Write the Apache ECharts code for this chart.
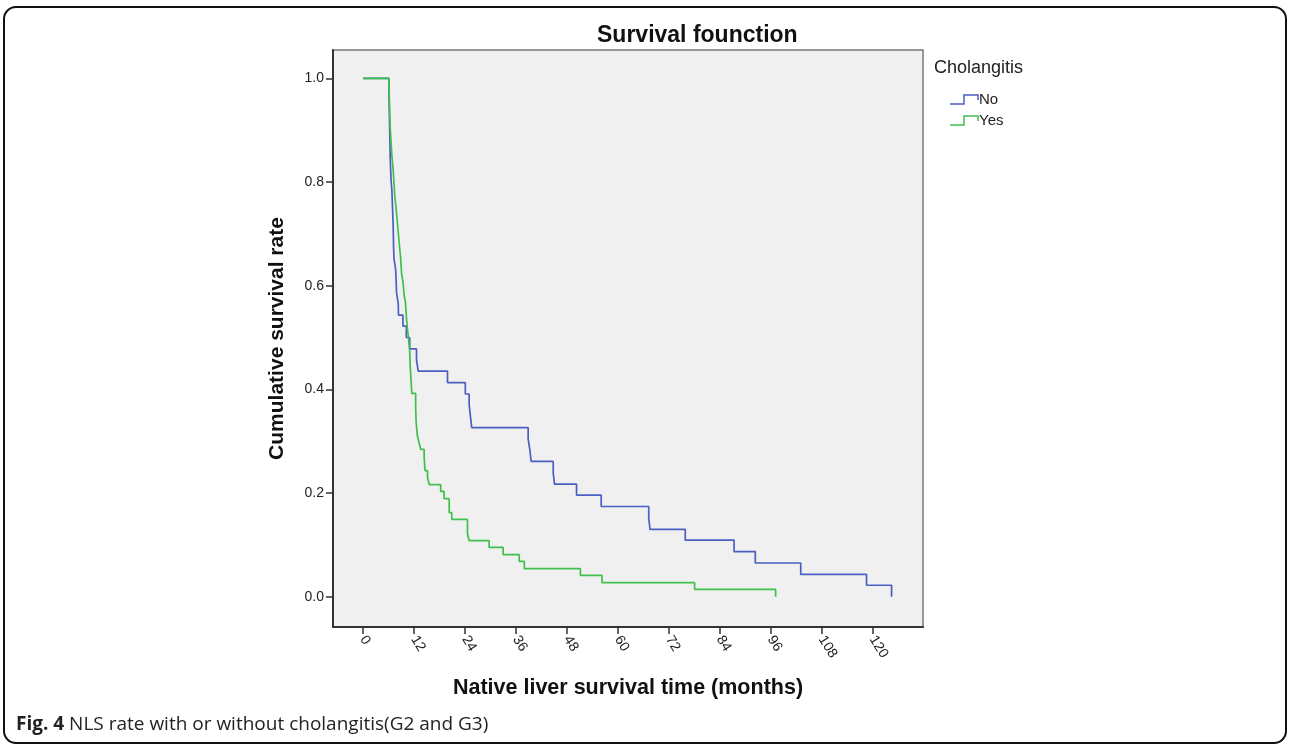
<!DOCTYPE html>
<html>
<head>
<meta charset="utf-8">
<script src="https://cdn.jsdelivr.net/npm/echarts@6/dist/echarts.min.js"></script>
<style>
  html, body { margin: 0; padding: 0; background: #ffffff; }
  #chart { width: 1290px; height: 747px; }
</style>
</head>
<body>
<div id="chart"></div>
<script>
// Kaplan-Meier step points: [month, cumulative survival after that time]
var noTimes = [0, 6.1, 6.15, 6.2, 6.25, 6.3, 6.35, 6.4, 6.5, 6.6, 6.8, 6.9, 7.0, 7.1, 7.15, 7.2, 7.3, 7.7, 7.8, 7.9, 8.3, 8.35, 9.4, 10.2, 11.0, 12.6, 13.0, 19.9, 24.1, 25.0, 25.3, 25.6, 38.9, 39.3, 39.6, 44.8, 45.1, 50.3, 56.1, 67.3, 67.6, 75.9, 87.4, 92.4, 103.1, 118.6, 124.5];
var noSurv  = [1.0, 0.978, 0.957, 0.935, 0.913, 0.891, 0.870, 0.848, 0.826, 0.804, 0.783, 0.761, 0.739, 0.717, 0.696, 0.674, 0.652, 0.630, 0.609, 0.587, 0.565, 0.543, 0.522, 0.500, 0.478, 0.457, 0.435, 0.413, 0.391, 0.370, 0.348, 0.326, 0.304, 0.283, 0.261, 0.239, 0.217, 0.196, 0.174, 0.152, 0.130, 0.109, 0.087, 0.065, 0.043, 0.022, 0.0];

var yesTimes = [0, 6.1, 6.2, 6.3, 6.4, 6.6, 6.8, 7.1, 7.3, 7.5, 7.7, 8.0, 8.3, 8.6, 8.9, 9.1, 9.4, 9.7, 10.0, 10.2, 10.5, 10.7, 11.0, 11.1, 11.3, 11.5, 12.4, 12.5, 12.8, 13.2, 13.6, 14.4, 14.6, 15.2, 15.6, 18.3, 19.1, 20.3, 20.9, 24.6, 25.0, 29.7, 33.0, 36.8, 38.0, 51.2, 56.3, 78.1, 97.2];
var yesSurv  = [1.0, 0.986, 0.959, 0.932, 0.905, 0.878, 0.851, 0.824, 0.797, 0.770, 0.757, 0.730, 0.703, 0.676, 0.649, 0.622, 0.608, 0.581, 0.568, 0.541, 0.514, 0.500, 0.473, 0.446, 0.419, 0.392, 0.365, 0.338, 0.311, 0.297, 0.284, 0.270, 0.243, 0.230, 0.216, 0.203, 0.189, 0.162, 0.149, 0.122, 0.108, 0.095, 0.081, 0.068, 0.054, 0.041, 0.027, 0.014, 0.0];

var xTicks = [0, 12, 24, 36, 48, 60, 72, 84, 96, 108, 120];
var yTicks = [0, 0.2, 0.4, 0.6, 0.8, 1.0];
var groupNames = ['No', 'Yes'];
var groupColors = ['#4a5fc1', '#3fc04c'];

function pairs(t, s) { return t.map(function (v, i) { return [v, s[i]]; }); }

var chart = echarts.init(document.getElementById('chart'), null, { renderer: 'canvas' });
var FONT = 'Liberation Sans, Arial, sans-serif';

var option = {
  backgroundColor: '#ffffff',
  animation: false,
  title: {
    text: 'Survival founction',
    left: 592, top: 19,
    textStyle: { fontFamily: FONT, fontSize: 23, fontWeight: 'bold', color: '#111' }
  },
  grid: {
    left: 333, top: 50, width: 590, height: 577,
    show: true, backgroundColor: '#f0f0f0', borderColor: '#777', borderWidth: 1.5
  },
  xAxis: {
    type: 'value', min: -7.07, max: 131.9,
    name: 'Native liver survival time (months)',
    nameLocation: 'middle', nameGap: 50,
    nameTextStyle: { fontFamily: FONT, fontSize: 21.5, fontWeight: 'bold', color: '#111' },
    axisLine: { show: true, onZero: false, lineStyle: { color: '#333', width: 2 } },
    axisTick: { show: true, customValues: xTicks, length: 7, lineStyle: { color: '#333', width: 1.5 } },
    axisLabel: { customValues: xTicks, rotate: -58, margin: 10, fontFamily: FONT, fontSize: 14, color: '#222' },
    splitLine: { show: false }
  },
  yAxis: {
    type: 'value', min: -0.0585, max: 1.0546,
    name: 'Cumulative survival rate',
    nameLocation: 'middle', nameGap: 45,
    nameTextStyle: { fontFamily: FONT, fontSize: 21, fontWeight: 'bold', color: '#111' },
    axisLine: { show: true, onZero: false, lineStyle: { color: '#333', width: 2 } },
    axisTick: { show: true, customValues: yTicks, length: 7, lineStyle: { color: '#333', width: 1.5 } },
    axisLabel: { customValues: yTicks, margin: 9, fontFamily: FONT, fontSize: 14, color: '#222',
      formatter: function (v) { return v.toFixed(1); } },
    splitLine: { show: false }
  },
  series: [
    { name: groupNames[0], type: 'line', step: 'end', showSymbol: false, symbol: 'none',
      data: pairs(noTimes, noSurv), lineStyle: { color: groupColors[0], width: 1.7 }, z: 2 },
    { name: groupNames[1], type: 'line', step: 'end', showSymbol: false, symbol: 'none',
      data: pairs(yesTimes, yesSurv), lineStyle: { color: groupColors[1], width: 1.7 }, z: 3 }
  ],
  graphic: [
    { type: 'rect', shape: { x: 4, y: 7, width: 1282, height: 736, r: 12 },
      style: { fill: 'none', stroke: '#111', lineWidth: 2 }, silent: true },
    { type: 'text', left: 934, top: 59,
      style: { text: 'Cholangitis', font: '18px ' + FONT, fill: '#222' } },
    { type: 'polyline', shape: { points: [[950, 104], [964, 104], [964, 95], [978, 95], [978, 100]] },
      style: { stroke: groupColors[0], lineWidth: 1.5, fill: null } },
    { type: 'text', left: 979, top: 92,
      style: { text: groupNames[0], font: '15px ' + FONT, fill: '#222' } },
    { type: 'polyline', shape: { points: [[950, 125], [964, 125], [964, 116], [978, 116], [978, 121]] },
      style: { stroke: groupColors[1], lineWidth: 1.5, fill: null } },
    { type: 'text', left: 979, top: 113,
      style: { text: groupNames[1], font: '15px ' + FONT, fill: '#222' } },
    { type: 'text', left: 16, top: 715,
      style: { rich: { b: { fontFamily: 'Open Sans', fontWeight: 'bold', fontSize: 19, fill: '#222' },
                        n: { fontFamily: 'Open Sans', fontSize: 19, fill: '#222' } },
               text: '{b|Fig. 4}{n| NLS rate with or without cholangitis(G2 and G3)}' } }
  ]
};
chart.setOption(option);
</script>
</body>
</html>
